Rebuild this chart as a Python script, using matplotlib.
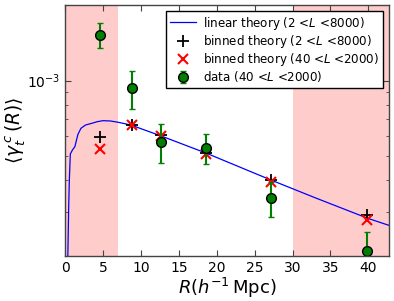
import matplotlib
matplotlib.use("Agg")
import matplotlib.pyplot as plt
from matplotlib.ticker import NullFormatter, MultipleLocator

# linear theory curve (2 < L < 8000)
R_lin = [0.36, 0.48, 0.57, 0.7, 1.0, 1.3, 1.7, 2.1, 2.7, 3.5, 4.2, 5.0, 6.0,
         7.0, 8.0, 8.8, 12.7, 18.6, 27.2, 33.0, 40.0, 42.7]
gamma_lin = [1.9e-4, 3.1e-4, 4.0e-4, 5.1e-4, 5.3e-4, 5.45e-4, 6.1e-4, 6.45e-4,
             6.65e-4, 6.75e-4, 6.85e-4, 6.92e-4, 6.9e-4, 6.82e-4, 6.72e-4,
             6.63e-4, 6.01e-4, 5.14e-4, 4.01e-4, 3.41e-4, 2.82e-4, 2.65e-4]

# radial bins
R_bins = [4.6, 8.8, 12.7, 18.6, 27.2, 39.8]
binned_full = [5.97e-4, 6.63e-4, 6.05e-4, 5.13e-4, 4.01e-4, 2.92e-4]
binned_cut = [5.33e-4, 6.63e-4, 6.01e-4, 5.08e-4, 3.94e-4, 2.79e-4]
data = [1.52e-3, 9.3e-4, 5.7e-4, 5.39e-4, 3.40e-4, 2.10e-4]
data_err = [1.7e-4, 1.6e-4, 1.0e-4, 0.75e-4, 0.55e-4, 0.4e-4]

masked = [(0, 7), (30, 43)]

fig = plt.figure(figsize=(3.94, 3.01), dpi=100)
ax = fig.add_axes([0.165, 0.1495, 0.822, 0.834])

for lo, hi in masked:
    ax.axvspan(lo, hi, color="#ffcccc", lw=0, zorder=0)

ax.plot(R_lin, gamma_lin, color="blue", lw=0.9,
        label=r"linear theory (2 <$L$ <8000)")
ax.plot(R_bins, binned_full, "k+", ms=8, mew=1.3, ls="none",
        label=r"binned theory (2 <$L$ <8000)")
ax.plot(R_bins, binned_cut, "x", color="red", ms=7, mew=1.5, ls="none",
        label=r"binned theory (40 <$L$ <2000)")
ax.errorbar(R_bins, data, yerr=data_err, fmt="o", color="green", mfc="green",
            mec="black", ms=7, mew=1.0, ecolor="green", elinewidth=1.5,
            capsize=2.5, capthick=1.5, label=r"data (40 <$L$ <2000)")

ax.set_yscale("log")
ax.set_xlim(0, 42.7)
ax.set_ylim(2e-4, 2e-3)
ax.xaxis.set_major_locator(MultipleLocator(5))
ax.yaxis.set_minor_formatter(NullFormatter())

ax.tick_params(which="both", direction="in", top=True, right=True,
               labelsize=10, color="#444444")
ax.tick_params(which="major", length=4)
ax.tick_params(which="minor", length=2)
for s in ax.spines.values():
    s.set_color("#444444")
    s.set_linewidth(1.0)

ax.set_xlabel(r"$R(h^{-1}\,\mathrm{Mpc})$", fontsize=13, labelpad=1)
ax.set_ylabel(r"$\langle\gamma_t^{\,c}\,(R)\rangle$", fontsize=13.5)
ax.yaxis.set_label_coords(-0.115, 0.5)

leg = ax.legend(loc="upper right", fontsize=8.6, numpoints=1, fancybox=False,
                edgecolor="black", framealpha=1, labelspacing=0.1,
                handlelength=2.2, borderpad=0.3, handletextpad=0.6)
leg.get_frame().set_linewidth(1.0)

fig.savefig("out.png", dpi=100)
